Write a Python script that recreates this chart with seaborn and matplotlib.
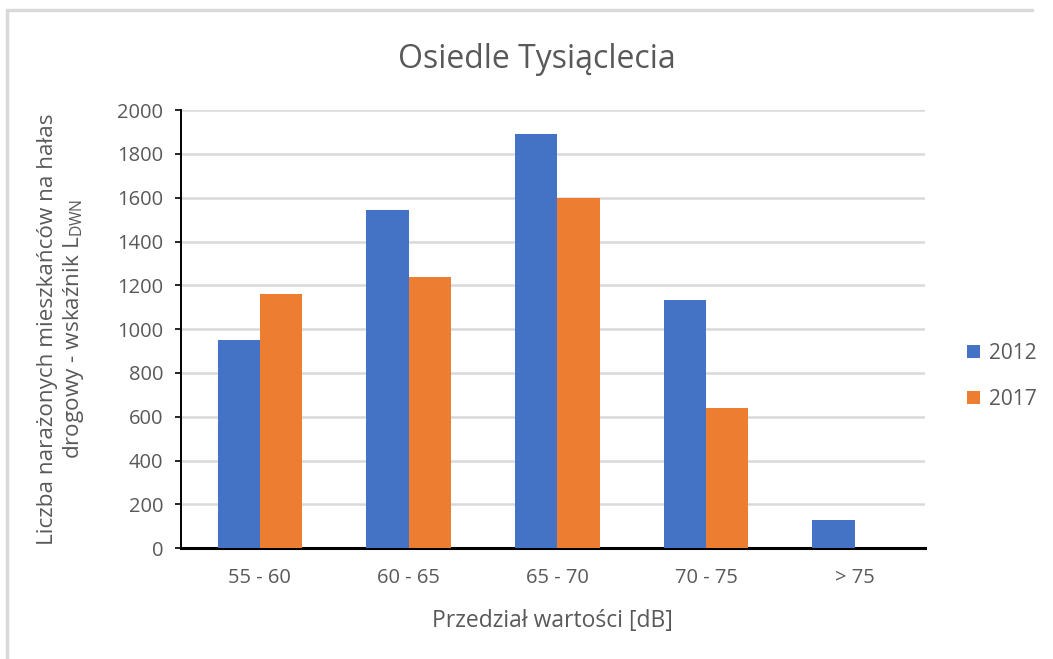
import matplotlib
matplotlib.use("Agg")
import matplotlib.pyplot as plt
import seaborn as sns
import pandas as pd
from matplotlib.lines import Line2D

categories = ["55 - 60", "60 - 65", "65 - 70", "70 - 75", "> 75"]
values_2012 = [950, 1545, 1890, 1135, 130]
values_2017 = [1160, 1240, 1600, 640, 0]
years = ["2012", "2017"]
yticks = [0, 200, 400, 600, 800, 1000, 1200, 1400, 1600, 1800, 2000]

df = pd.DataFrame({
    "cat": categories * 2,
    "val": values_2012 + values_2017,
    "year": [years[0]] * len(categories) + [years[1]] * len(categories),
})

sns.set_theme(style="white")
plt.rcParams["font.family"] = ["Open Sans", "DejaVu Sans"]

fig = plt.figure(figsize=(10.53, 6.59), dpi=100)
ax = fig.add_axes([0.172, 0.168, 0.706, 0.665])

palette = {"2012": "#4472C4", "2017": "#ED7D31"}
sns.barplot(data=df, x="cat", y="val", hue="year", palette=palette,
            width=0.57, ax=ax, saturation=1, legend=True, zorder=3, linewidth=0)

ax.set_ylim(0, 2000)
ax.set_yticks(yticks)
ax.set_yticklabels([str(v) for v in yticks], fontsize=14.5, color="#595959")
ax.set_xlim(-0.53, 4.47)
ax.tick_params(axis="x", labelsize=14.5, labelcolor="#595959", length=0, pad=14)
ax.tick_params(axis="y", left=True, length=4, width=1.2, color="#000000", pad=9)
ax.yaxis.grid(True, color="#d9d9d9", linewidth=1.8, zorder=0)
ax.set_axisbelow(True)

for s in ["top", "right"]:
    ax.spines[s].set_visible(False)
ax.spines["left"].set_color("#000000")
ax.spines["left"].set_linewidth(1.4)
ax.spines["bottom"].set_color("#000000")
ax.spines["bottom"].set_linewidth(2.2)

ax.set_xlabel("Przedział wartości [dB]", fontsize=16.5, color="#595959", labelpad=15)
ax.set_ylabel("Liczba narażonych mieszkańców na hałas\ndrogowy - wskaźnik L$_{\\mathregular{DWN}}$",
              fontsize=16.2, color="#595959", labelpad=22, linespacing=1.2)
ax.set_title("Osiedle Tysiąclecia", fontsize=23, color="#595959", pad=30, x=0.479)

leg = ax.legend(loc="center left", bbox_to_anchor=(1.032, 0.393), frameon=False,
                fontsize=15, labelcolor="#595959", handlelength=0.6, handleheight=0.6,
                handletextpad=0.45, labelspacing=1.2)

# outer chart frame (top and left)
fig.add_artist(Line2D([7/1053, 1032/1053], [1 - 10/659, 1 - 10/659],
                      transform=fig.transFigure, color="#d9d9d9", linewidth=2.5))
fig.add_artist(Line2D([7/1053, 7/1053], [0, 1 - 10/659],
                      transform=fig.transFigure, color="#d9d9d9", linewidth=2.5))

fig.savefig("out.png", dpi=100, facecolor="white")
